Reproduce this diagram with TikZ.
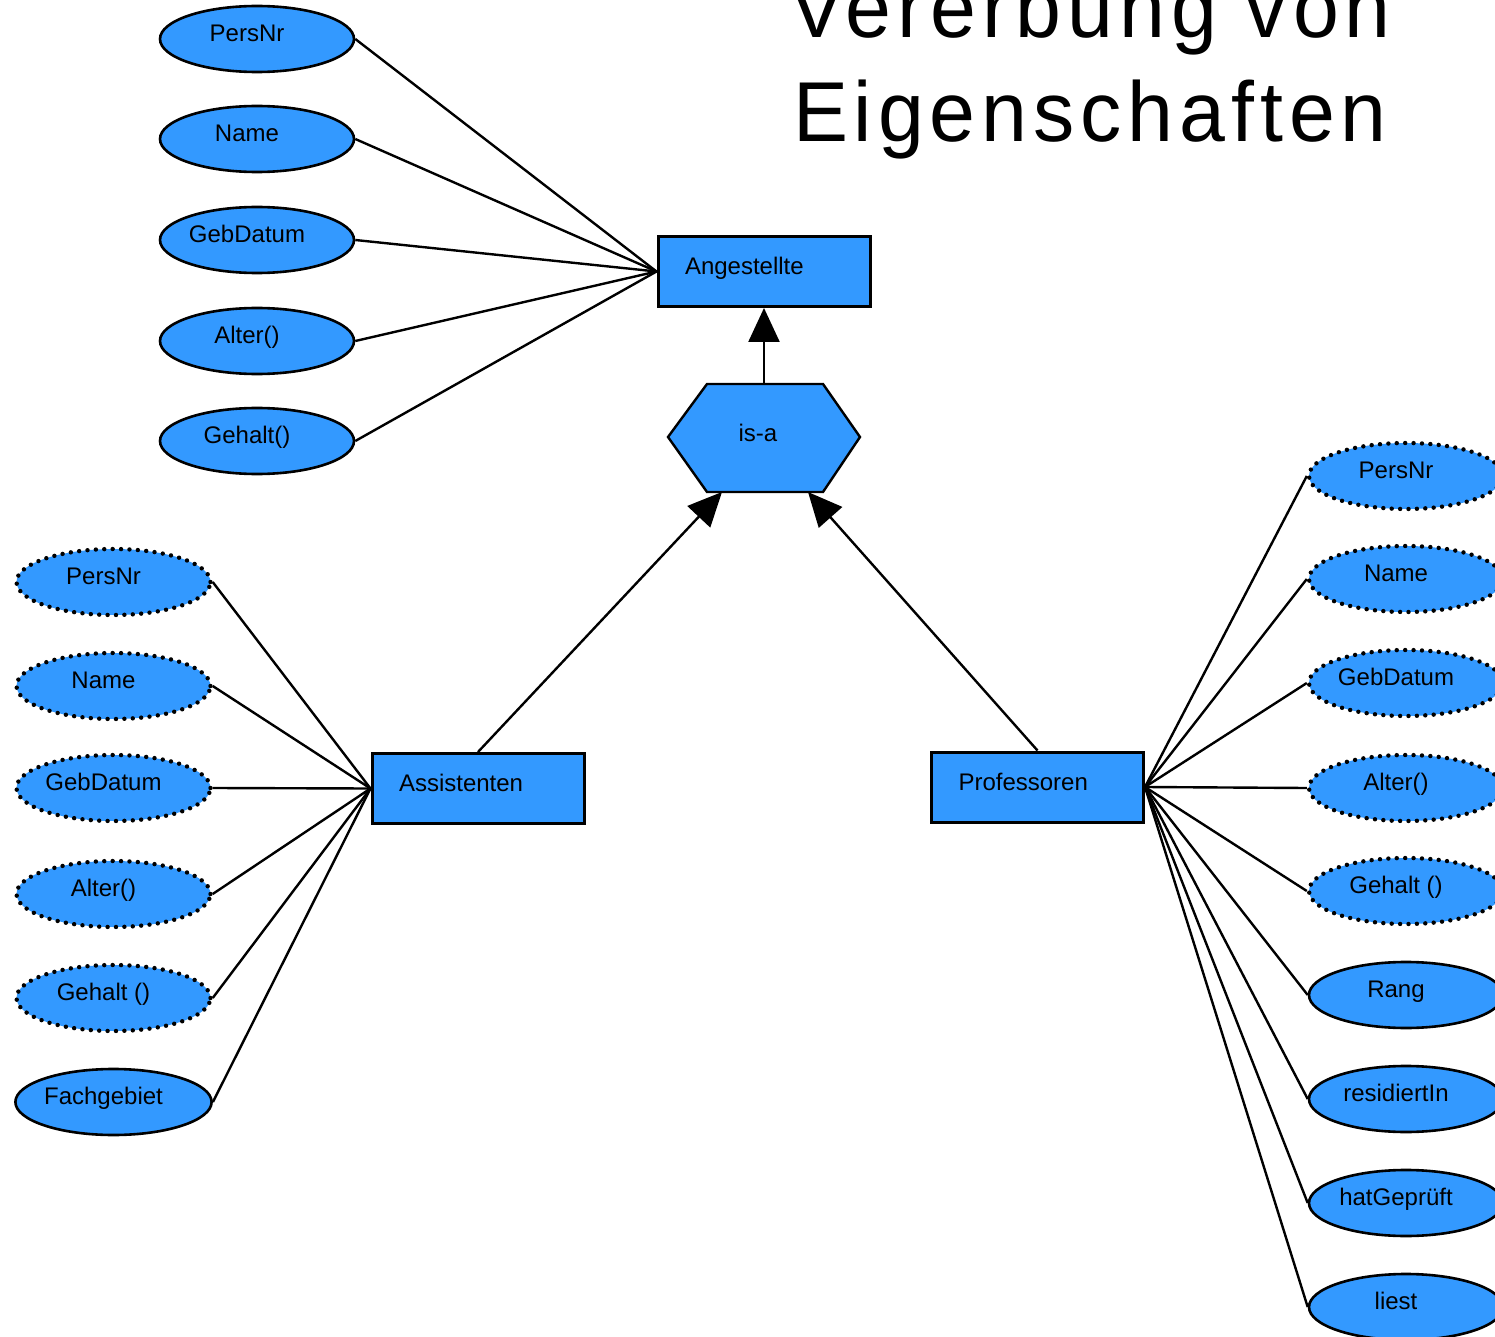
\documentclass[tikz,border=0pt]{standalone}
\usepackage{fontspec}
\setmainfont{Liberation Sans}
\newfontfamily\titelfont[FakeStretch=0.97,LetterSpace=7]{Liberation Sans}
\usetikzlibrary{shapes.geometric,arrows.meta}
\definecolor{erblau}{RGB}{51,153,255}
\tikzset{
	attr/.style={ellipse,draw,line width=1.3pt,fill=erblau,minimum width=97pt,minimum height=33pt,inner sep=0pt,
		font=\fontsize{12}{14}\selectfont,text height=9pt,text depth=6.6pt,execute at end node={\hspace*{10pt}}},
	erbattr/.style={attr,line width=2.2pt,dash pattern=on 0pt off 4.2pt,line cap=round},
	entity/.style={rectangle,draw,line width=1.5pt,fill=erblau,minimum width=105pt,minimum height=35pt,
		text width=79pt,align=left,inner xsep=13.5pt,font=\fontsize{12}{14}\selectfont,text height=9pt,text depth=5.6pt},
	verb/.style={line width=1.2pt},
	isapfeil/.style={line width=1.2pt,-{Triangle[length=17pt,width=15.5pt]}}
}
\begin{document}
\begin{tikzpicture}[x=0.5pt,y=-0.5pt]
	\useasboundingbox (0,0) rectangle (1495,1337);
	% Titel
	\node[font=\titelfont\fontsize{42.5}{52}\selectfont,anchor=base] (titel1) at (1090,38) {Vererbung von};
	\node[font=\titelfont\fontsize{42.5}{52}\selectfont,anchor=base] (titel2) at (1090,142) {Eigenschaften};
	% Entities
	\node[entity] (ang) at (764,271.5) {Angestellte};
	\node[entity] (assi) at (478,788.5) {Assistenten};
	\node[entity] (prof) at (1037.5,787) {Professoren};
	% is-a
	\draw[line width=1.2pt,fill=erblau] (668,437)--(707,384)--(823,384)--(860,437)--(823,492)--(707,492)--cycle;
	\node[font=\fontsize{12}{14}\selectfont] (isa) at (758,433) {is-a};
	\coordinate (isaN) at (764,384);
	\coordinate (isaSW) at (722,492);
	\coordinate (isaSE) at (808,492);
	\draw[isapfeil] (isaN) -- (ang.south);
	\draw[isapfeil] (assi.north) -- (isaSW);
	\draw[isapfeil] (prof.north) -- (isaSE);
	% Angestellte
	\node[attr] (ang1) at (257,39) {PersNr};
	\node[attr] (ang2) at (257,139) {Name};
	\node[attr] (ang3) at (257,240) {GebDatum};
	\node[attr] (ang4) at (257,341) {Alter()};
	\node[attr] (ang5) at (257,441) {Gehalt()};
	\foreach \n in {ang1,ang2,ang3,ang4,ang5}
		\draw[verb] (\n.east) -- (ang.west);
	% Assistenten
	\node[erbattr] (ass1) at (113.5,582) {PersNr};
	\node[erbattr] (ass2) at (113.5,686) {Name};
	\node[erbattr] (ass3) at (113.5,788) {GebDatum};
	\node[erbattr] (ass4) at (113.5,894) {Alter()};
	\node[erbattr] (ass5) at (113.5,998) {Gehalt ()};
	\node[attr] (ass6) at (113.5,1102) {Fachgebiet};
	\foreach \n in {ass1,ass2,ass3,ass4,ass5,ass6}
		\draw[verb] (\n.east) -- (assi.west);
	% Professoren
	\node[erbattr] (prof1) at (1406,476) {PersNr};
	\node[erbattr] (prof2) at (1406,579) {Name};
	\node[erbattr] (prof3) at (1406,683) {GebDatum};
	\node[erbattr] (prof4) at (1406,788) {Alter()};
	\node[erbattr] (prof5) at (1406,891) {Gehalt ()};
	\node[attr] (prof6) at (1406,995) {Rang};
	\node[attr] (prof7) at (1406,1099) {residiertIn};
	\node[attr] (prof8) at (1406,1203) {hatGeprüft};
	\node[attr] (prof9) at (1406,1307) {liest};
	\foreach \n in {prof1,prof2,prof3,prof4,prof5,prof6,prof7,prof8,prof9}
		\draw[verb] (prof.east) -- (\n.west);
\end{tikzpicture}
\end{document}
